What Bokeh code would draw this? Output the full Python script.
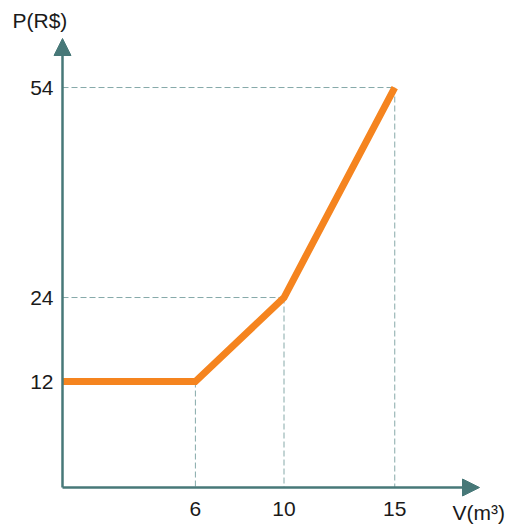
from bokeh.plotting import figure
from bokeh.models import Arrow, NormalHead, Range1d
from bokeh.core.properties import value
from bokeh.embed import file_html
from bokeh.resources import INLINE

# data
volume = [0, 6, 10, 15]
price = [12, 12, 24, 54]
x_ticks = [6, 10, 15]
y_ticks = [12, 24, 54]
x_tick_labels = ["6", "10", "15"]
y_tick_labels = ["12", "24", "54"]
x_label = "V(m³)"
y_label = "P(R$)"

AXIS = "#477878"
GUIDE = "#86a9a9"
ORANGE = "#f5841f"
TEXT = "#1a1a1a"
FONT = "Liberation Sans"

# scales (px per unit) and axis crossing
W, H = 524, 525
ox, oy = 62, 487            # pixel position of axis crossing
sx, sy = 22.15, 7.0         # pixels per data unit
y_axis_val = -3.14          # value where the horizontal axis sits
x_axis_val = 0

x0 = x_axis_val - ox / sx
x1 = x_axis_val + (W - ox) / sx
y1 = y_axis_val + oy / sy
y0 = y_axis_val - (H - oy) / sy

p = figure(width=W, height=H, output_backend="svg", toolbar_location=None,
           x_range=Range1d(x0, x1), y_range=Range1d(y0, y1),
           x_axis_type=None, y_axis_type=None, min_border=0)
p.grid.visible = False
p.outline_line_color = None
p.background_fill_color = "white"
p.border_fill_color = "white"

def dx(px):
    return px / sx

def dy(px):
    return px / sy

# dashed guides
gx = volume[1:]
gy = price[1:]
p.segment(x0=[x_axis_val] * len(gx), y0=gy, x1=gx, y1=gy,
          line_color=GUIDE, line_width=1, line_dash="6 3")
p.segment(x0=gx, y0=gy, x1=gx, y1=[y_axis_val] * len(gx),
          line_color=GUIDE, line_width=1, line_dash="6 3")

p.line(volume, price, line_color=ORANGE, line_width=7, line_join="miter")

# axes with arrow heads
y_tip = y_axis_val + dy(oy - 38)
x_tip = x_axis_val + dx(479 - ox)
p.add_layout(Arrow(x_start=x_axis_val, y_start=y_axis_val, x_end=x_axis_val, y_end=y_tip,
                   line_color=AXIS, line_width=2.5,
                   end=NormalHead(size=17, fill_color=AXIS, line_color=AXIS)))
p.add_layout(Arrow(x_start=x_axis_val, y_start=y_axis_val, x_end=x_tip, y_end=y_axis_val,
                   line_color=AXIS, line_width=2.5,
                   end=NormalHead(size=17, fill_color=AXIS, line_color=AXIS)))

# tick labels
p.text(x=[x_axis_val - dx(9)] * len(y_ticks), y=y_ticks, text=y_tick_labels,
       text_font=value(FONT), text_font_size="21px", text_color=TEXT,
       text_align="right", text_baseline="middle")
p.text(x=x_ticks, y=[y_axis_val - dy(21)] * len(x_ticks), text=x_tick_labels,
       text_font=value(FONT), text_font_size="21px", text_color=TEXT,
       text_align="center", text_baseline="middle")

# axis titles
p.text(x=[x_axis_val - dx(50)], y=[y_axis_val + dy(oy - 20)], text=[y_label],
       text_font=value(FONT), text_font_size="21px", text_color=TEXT,
       text_align="left", text_baseline="middle")
p.text(x=[x_axis_val + dx(452 - ox)], y=[y_axis_val - dy(512 - oy)], text=[x_label],
       text_font=value(FONT), text_font_size="21px", text_color=TEXT,
       text_align="left", text_baseline="middle")

open("out.html", "w").write(file_html(p, INLINE))
